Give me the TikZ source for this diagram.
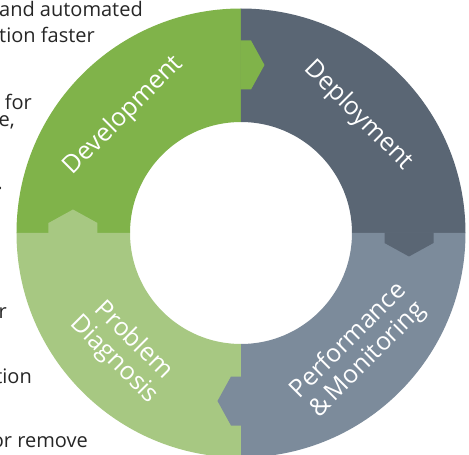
\documentclass[tikz,border=0pt]{standalone}
\usepackage{fontspec}
\setmainfont{Open Sans}
\definecolor{devgreen}{HTML}{80B34A}
\definecolor{probgreen}{HTML}{A7C882}
\definecolor{depslate}{HTML}{5A6674}
\definecolor{perfslate}{HTML}{7C8B9B}
\definecolor{bodytext}{HTML}{262626}
\tikzset{
  seglabel/.style={text=white, font=\fontsize{25}{27}\selectfont, align=center, inner sep=0pt},
  sidetext/.style={text=bodytext, font=\fontsize{20}{22}\selectfont, anchor=base east, inner sep=0pt},
}
\newcommand{\ringsector}[3]{%
  \fill[#3] (#1:111) -- (#1:224.5) arc[start angle=#1, end angle=#2, radius=224.5pt] -- (#2:111) arc[start angle=#2, end angle=#1, radius=111pt] -- cycle;}
\begin{document}
\begin{tikzpicture}[x=1pt,y=1pt]
\useasboundingbox (-241,-222) rectangle (228,233);
\clip (-241,-222) rectangle (228,233);
% side text fragments
\node[sidetext] (t1) at (-98,216) {and automated};
\node[sidetext] (t2) at (-146,190) {tion faster};
\node[sidetext] (t3) at (-209,123) {for};
\node[sidetext] (t4) at (-226,106) {e,};
\node[sidetext] (t5) at (-238,43) {.};
\node[sidetext] (t6) at (-234,-85) {r};
\node[sidetext] (t7) at (-209,-150) {tion};
\node[sidetext] (t8) at (-153,-214) {or remove};
% ring
\ringsector{90}{180}{devgreen}
\ringsector{0}{90}{depslate}
\ringsector{270}{360}{perfslate}
\ringsector{180}{270}{probgreen}
% notches
\fill[devgreen] (-0.5,192.5) -- (10,192.5) -- (23.5,168) -- (10,143.5) -- (-0.5,143.5) -- cycle;
\fill[depslate] (143.5,0.5) -- (143.5,-10) -- (168,-23.5) -- (192.5,-10) -- (192.5,0.5) -- cycle;
\fill[perfslate] (0.5,-143.5) -- (-10,-143.5) -- (-23.5,-168) -- (-10,-192.5) -- (0.5,-192.5) -- cycle;
\fill[probgreen] (-192.5,-0.5) -- (-192.5,10) -- (-168,23.5) -- (-143.5,10) -- (-143.5,-0.5) -- cycle;
% labels
\node[seglabel, rotate=45] (dev) at (135:166) {Development};
\node[seglabel, rotate=-45] (dep) at (45:166) {Deployment};
\node[seglabel, rotate=45] (perf) at (315:166) {Performance\\\&\,Monitoring};
\node[seglabel, rotate=-45] (prob) at (225:166) {Problem\\Diagnosis};
\end{tikzpicture}
\end{document}
